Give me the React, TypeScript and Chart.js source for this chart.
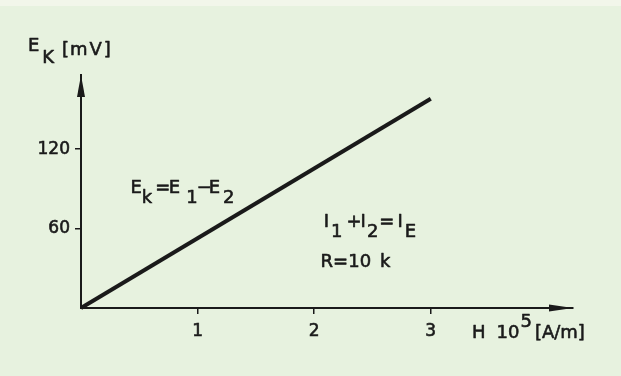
import { useEffect, useRef } from "react";
import { Chart, registerables } from "chart.js";

Chart.register(...registerables);

// Hall voltage E_K against field strength H (x in units of 10^5 A/m)
const fieldH = [0, 3];
const voltageEk = [0, 158];
const xTickValues = [1, 2, 3];
const yTickValues = [60, 120];
const xAxisMax = 4.22;
const yAxisMax = 176;

const INK = "#1a1a1a";
const PAPER = "#e7f2df";
const PAPER_EDGE = "#f2f6ea";
const FONT = "'DejaVu Sans', sans-serif";
const SIZE = 18;
const TICK_SIZE = 17;

type Piece = { t: string; dy?: number; gap?: number };

// writes a run of text pieces left to right, with optional sub/superscript offsets
function drawPieces(ctx: CanvasRenderingContext2D, pieces: Piece[], x: number, y: number) {
  let cx = x;
  for (const p of pieces) {
    cx += p.gap ?? 0;
    ctx.strokeText(p.t, cx, y + (p.dy ?? 0));
    ctx.fillText(p.t, cx, y + (p.dy ?? 0));
    cx += ctx.measureText(p.t).width;
  }
}

const paperPlugin = {
  id: "paper",
  beforeDraw(chart: any) {
    const { ctx, width, height } = chart;
    ctx.save();
    ctx.fillStyle = PAPER;
    ctx.fillRect(0, 0, width, height);
    // paler strip along the top edge of the sheet
    ctx.fillStyle = PAPER_EDGE;
    ctx.fillRect(0, 0, width, 6);
    ctx.restore();
  },
};

const annotatePlugin = {
  id: "annotate",
  afterDraw(chart: any) {
    const { ctx, chartArea: a, scales } = chart;
    const xs = scales.x;
    const ys = scales.y;
    ctx.save();
    ctx.fillStyle = INK;
    ctx.strokeStyle = INK;

    // axis arrowheads
    ctx.beginPath();
    ctx.moveTo(a.right, a.bottom);
    ctx.lineTo(a.right - 24, a.bottom - 3.5);
    ctx.lineTo(a.right - 24, a.bottom + 3.5);
    ctx.closePath();
    ctx.fill();
    ctx.beginPath();
    ctx.moveTo(a.left, a.top);
    ctx.lineTo(a.left - 4, a.top + 22);
    ctx.lineTo(a.left + 4, a.top + 22);
    ctx.closePath();
    ctx.fill();

    ctx.font = `${SIZE}px ${FONT}`;
    ctx.textAlign = "left";
    ctx.textBaseline = "alphabetic";
    ctx.lineWidth = 0.6;
    ctx.lineJoin = "round";

    // axis titles
    drawPieces(ctx, [{ t: "E" }, { t: "K", dy: 12, gap: 3 }], a.left - 53, a.top - 24);
    drawPieces(
      ctx,
      [{ t: "[" }, { t: "m", gap: 1 }, { t: "V", gap: 2 }, { t: "]", gap: 2 }],
      a.left - 19,
      a.top - 20
    );
    drawPieces(
      ctx,
      [{ t: "H" }, { t: "10", gap: 11 }, { t: "5", dy: -11, gap: 1 }, { t: "[A/m]", gap: 3 }],
      a.right - 101,
      a.bottom + 30
    );

    // circuit relations
    drawPieces(
      ctx,
      [
        { t: "E" },
        { t: "k", dy: 10 },
        { t: "=", gap: 3 },
        { t: "E", gap: -1.5 },
        { t: "1", dy: 10, gap: 6 },
        { t: "−", gap: -1 },
        { t: "E", gap: -3 },
        { t: "2", dy: 10, gap: 3 },
      ],
      xs.getPixelForValue(0.424),
      ys.getPixelForValue(87)
    );
    drawPieces(
      ctx,
      [
        { t: "I" },
        { t: "1", dy: 10, gap: 2 },
        { t: "+", gap: 4 },
        { t: "I", gap: -1 },
        { t: "2", dy: 10, gap: 1 },
        { t: "=", gap: 1 },
        { t: "I", gap: 3 },
        { t: "E", dy: 10, gap: 2 },
      ],
      xs.getPixelForValue(2.082),
      ys.getPixelForValue(61)
    );
    drawPieces(ctx, [{ t: "R=10" }, { t: "k", gap: 9 }], xs.getPixelForValue(2.055), ys.getPixelForValue(31));
    ctx.restore();
  },
};

export default function App() {
  const ref = useRef<HTMLCanvasElement>(null);

  useEffect(() => {
    const tickStyle = {
      font: { family: FONT, size: TICK_SIZE },
      color: INK,
      textStrokeColor: INK,
      textStrokeWidth: 0.6,
      autoSkip: false,
    };
    const chart = new Chart(ref.current as HTMLCanvasElement, {
      type: "scatter",
      data: {
        datasets: [
          {
            data: fieldH.map((h, i) => ({ x: h, y: voltageEk[i] })),
            showLine: true,
            borderColor: INK,
            borderWidth: 4,
            borderCapStyle: "butt",
            pointRadius: 0,
            clip: false,
          } as any,
        ],
      },
      options: {
        animation: false,
        responsive: false,
        devicePixelRatio: 1,
        layout: { padding: { left: 0, top: 75, right: 48, bottom: 0 } },
        plugins: { legend: { display: false }, tooltip: { enabled: false } },
        scales: {
          x: {
            type: "linear",
            min: 0,
            max: xAxisMax,
            afterBuildTicks: (s: any) => {
              s.ticks = xTickValues.map((v) => ({ value: v }));
            },
            afterFit: (s: any) => {
              s.height = 68;
            },
            grid: { drawOnChartArea: false, drawTicks: true, tickLength: 6, color: INK, lineWidth: 1.5 },
            border: { display: true, color: INK, width: 2 },
            ticks: { ...tickStyle, padding: 7, maxRotation: 0 },
          },
          y: {
            type: "linear",
            min: 0,
            max: yAxisMax,
            afterBuildTicks: (s: any) => {
              s.ticks = yTickValues.map((v) => ({ value: v }));
            },
            afterFit: (s: any) => {
              s.width = 81;
            },
            grid: { drawOnChartArea: false, drawTicks: true, tickLength: 6, color: INK, lineWidth: 1.5 },
            border: { display: true, color: INK, width: 2 },
            ticks: { ...tickStyle, padding: 5 },
          },
        },
      } as any,
      plugins: [paperPlugin, annotatePlugin],
    });
    return () => chart.destroy();
  }, []);

  return (
    <div style={{ position: "fixed", left: 0, top: 0, width: 621, height: 376, background: PAPER }}>
      <canvas ref={ref} width={621} height={376} style={{ display: "block", width: 621, height: 376 }} />
    </div>
  );
}
